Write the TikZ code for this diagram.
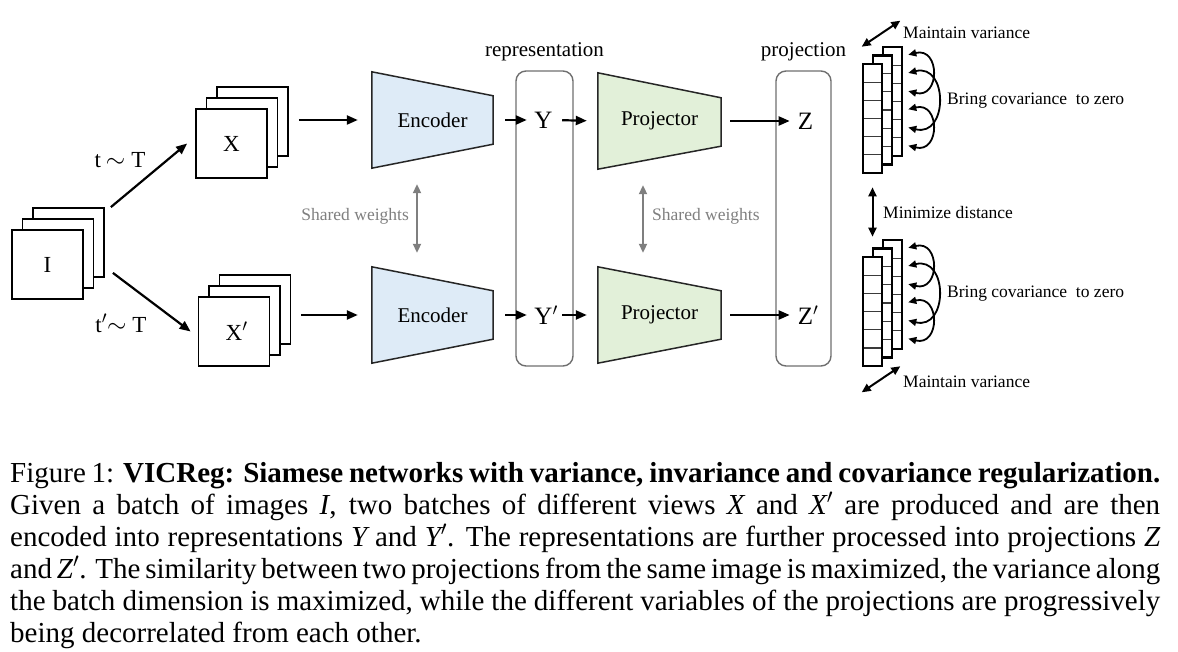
\documentclass[tikz,border=0pt]{standalone}
\usepackage{fontspec}
\setmainfont{Liberation Serif}
\usepackage{tikz}
\usetikzlibrary{arrows.meta,positioning,calc,backgrounds}
\definecolor{EncBlue}{HTML}{DEEBF7}
\definecolor{ProjGreen}{HTML}{E2F0D9}
\definecolor{EdgeDark}{HTML}{262626}
\definecolor{WeightGray}{HTML}{7F7F7F}
\definecolor{BoxGray}{HTML}{6F6F6F}
\definecolor{CellGray}{HTML}{3A3A3A}

\begin{document}
\begin{tikzpicture}[x=1pt,y=-1pt,
  img/.style={rectangle,draw=black,line width=1.8pt,fill=white,
              minimum width=71pt,minimum height=69pt,inner sep=0pt,
              font=\fontsize{23}{27}\selectfont},
  net/.style={rectangle,minimum height=96pt,inner sep=0pt,
              font=\fontsize{21}{25}\selectfont},
  trap/.style={draw=EdgeDark,line width=1.5pt,line join=miter},
  var/.style={inner sep=0pt,font=\fontsize{25}{30}\selectfont},
  tlab/.style={inner sep=0pt,font=\fontsize{23}{27}\selectfont},
  grp/.style={rectangle,rounded corners=10pt,draw=BoxGray,line width=1.4pt,
              minimum height=295pt},
  vec/.style={rectangle,draw=black,line width=2.6pt,fill=white,
              minimum width=19pt,minimum height=109pt,inner sep=0pt,
              path picture={\foreach \k in {1,...,5}
                \draw[CellGray,line width=1.3pt]
                  ([yshift={-\k*18.17pt}]path picture bounding box.north west) --
                  ([yshift={-\k*18.17pt}]path picture bounding box.north east);}},
  lab/.style={font=\fontsize{21}{25}\selectfont},
  note/.style={inner sep=0pt,font=\fontsize{17.5}{21}\selectfont},
  arr/.style={-{Triangle[length=11pt,width=9pt]},line width=2.2pt},
  warr/.style={{Triangle[length=9pt,width=8pt]}-{Triangle[length=9pt,width=8pt]},
               line width=2pt,WeightGray},
  darr/.style={{Triangle[length=9pt,width=8pt]}-{Triangle[length=9pt,width=8pt]},
               line width=2pt},
  carr/.style={{Triangle[length=8pt,width=7pt]}-{Triangle[length=8pt,width=7pt]},
               line width=1.8pt}]
\useasboundingbox (0,0) rectangle (1178,652);

% batch of images and the two views
\node[img] (i3) at (68.5,242.5) {};
\node[img] (i2) at ([shift={(-10.5,11)}]i3) {};
\node[img] (i1) at ([shift={(-10.5,11)}]i2) {I};
\node[img] (x3) at (252.5,121.5) {};
\node[img] (x2) at ([shift={(-10.5,11)}]x3) {};
\node[img] (x1) at ([shift={(-10.5,11)}]x2) {X};
\node[img] (xp3) at (255,309.5) {};
\node[img] (xp2) at ([shift={(-10.5,11)}]xp3) {};
\node[img] (xp1) at ([shift={(-10.5,11)}]xp2) {X\rlap{$'$}};
\draw[arr] ([xshift=6pt]i3.north east) -- ([xshift=-8pt]x1.west);
\draw[arr] ([shift={(8pt,5pt)}]i3.south east) -- ([xshift=-7pt]xp1.west);
\node[tlab] (t1) at (120,160) {t\hspace{5pt}${\sim}$\hspace{6pt}T};
\node[tlab] (t2) at (121,323) {t$'{\sim}$\hspace{6pt}T};

% encoders and projectors
\node[net,minimum width=121pt] (enc1) at (432.5,120) {Encoder};
\node[net,minimum width=121pt] (enc2) at (432.5,315) {Encoder};
\node[net,minimum width=123pt] (proj1) at (659.5,121) {Projector};
\node[net,minimum width=123pt] (proj2) at (659.5,315) {Projector};
\begin{scope}[on background layer]
\draw[trap,fill=EncBlue] (enc1.north west) -- ([yshift=-24pt]enc1.north east)
  -- ([yshift=24pt]enc1.south east) -- (enc1.south west) -- cycle;
\draw[trap,fill=EncBlue] (enc2.north west) -- ([yshift=-24pt]enc2.north east)
  -- ([yshift=24pt]enc2.south east) -- (enc2.south west) -- cycle;
\draw[trap,fill=ProjGreen] (proj1.north west) -- ([yshift=-25pt]proj1.north east)
  -- ([yshift=23pt]proj1.south east) -- (proj1.south west) -- cycle;
\draw[trap,fill=ProjGreen] (proj2.north west) -- ([yshift=-24pt]proj2.north east)
  -- ([yshift=24pt]proj2.south east) -- (proj2.south west) -- cycle;
\end{scope}

% representation / projection columns
\node[grp,minimum width=57pt] (rep) at (544.5,218.5) {};
\node[grp,minimum width=55pt] (prj) at (803.5,218.5) {};
\node[lab,above=6pt of rep] (replab) {representation};
\node[lab,above=6pt of prj] (prjlab) {projection};
\node[var] (y1) at (543.5,120) {Y};
\node[var] (y2) at (543.5,315) {Y\rlap{$'$}};
\node[var] (z1) at (805.5,121) {Z};
\node[var] (z2) at (805.5,315) {Z\rlap{$'$}};

\draw[arr,shorten <=10pt,shorten >=14pt] (x3.east |- enc1) -- (enc1.west);
\draw[arr,shorten <=10pt,shorten >=14pt] (xp3.east |- enc2) -- (enc2.west);
\draw[arr,shorten <=12pt,shorten >=7.5pt] (enc1.east) -- (y1.west);
\draw[arr,shorten <=12pt,shorten >=7.5pt] (enc2.east) -- (y2.west);
\draw[arr,shorten <=9.5pt,shorten >=11pt] (y1.east) -- (proj1.west);
\draw[arr,shorten <=9.5pt,shorten >=11pt] (y2.east) -- (proj2.west);
\draw[arr,shorten <=9pt,shorten >=8pt] (proj1.east) -- (z1.west);
\draw[arr,shorten <=9pt,shorten >=8pt] (proj2.east) -- (z2.west);

% shared weights
\draw[warr,shorten <=16pt,shorten >=14pt] ([xshift=-15.5pt]enc1.south)
  -- ([xshift=-15.5pt]enc2.north);
\node[note,WeightGray,anchor=east] (sw1) at (409,216) {Shared weights};
\draw[warr,shorten <=16pt,shorten >=14pt] ([xshift=-16.5pt]proj1.south)
  -- ([xshift=-16.5pt]proj2.north);
\node[note,WeightGray,anchor=west] (sw2) at (652,216) {Shared weights};

% embedding vectors
\node[vec] (zb1) at (892.5,101.5) {};
\node[vec] (zm1) at ([shift={(-10,8.5)}]zb1) {};
\node[vec] (zf1) at ([shift={(-10,8.5)}]zm1) {};
\node[vec] (zb2) at (892.5,294.5) {};
\node[vec] (zm2) at ([shift={(-10,8.5)}]zb2) {};
\node[vec] (zf2) at ([shift={(-10,8.5)}]zm2) {};
\foreach \k in {1,...,6}{
  \coordinate (cu\k) at ([shift={(5pt,{-(\k-0.5)*18.17pt})}]zb1.north east);
  \coordinate (cl\k) at ([shift={(5pt,{-(\k-0.5)*18.17pt})}]zb2.north east);
}
\draw[carr] (cu1) .. controls +(32,-8) and +(32,8) .. (cu3);
\draw[carr] (cu2) .. controls +(40,-10) and +(40,10) .. (cu5);
\draw[carr] (cu4) .. controls +(32,-8) and +(32,8) .. (cu6);
\draw[carr] (cl1) .. controls +(32,-8) and +(32,8) .. (cl3);
\draw[carr] (cl2) .. controls +(40,-10) and +(40,10) .. (cl5);
\draw[carr] (cl4) .. controls +(32,-8) and +(32,8) .. (cl6);
\node[note,anchor=west] (bc1) at (947,101) {Bring covariance~ to zero};
\node[note,anchor=west] (bc2) at (947,294) {Bring covariance~ to zero};

\draw[darr] ([yshift=16pt]zf1.north west) -- ([shift={(-3pt,25pt)}]zb1.north east);
\node[note,anchor=west] (mv1) at (903,33) {Maintain variance};
\draw[darr] ([yshift=-25pt]zf2.south west) -- ([shift={(-3pt,-16pt)}]zb2.south east);
\node[note,anchor=west] (mv2) at (903,382) {Maintain variance};
\draw[darr,shorten <=13pt,shorten >=19pt] (zf1.south) -- (zf2.north);
\node[note,anchor=west] (mind) at (883,213) {Minimize distance};

% caption
\node[anchor=north west,text width=1150pt,align=justify,inner sep=0pt,
      font=\fontsize{29}{32}\selectfont] (cap) at (10,462) {Figure 1:
  \textbf{VICReg: Siamese networks with variance, invariance and covariance
  regularization.}\linebreak
  Given a batch of images $\textit{I}$, two batches of different views
  $\textit{X}$ and $\textit{X}'$ are produced and are then\linebreak
  encoded into representations $\textit{Y}$ and $\textit{Y}'$. The
  representations are further processed into projections $\textit{Z}$\linebreak
  and $\textit{Z}'$. The similarity between two projections from the same
  image is maximized, the variance along\linebreak
  the batch dimension is maximized, while the different variables of the
  projections are progressively\linebreak
  being decorrelated from each other.};
\end{tikzpicture}
\end{document}
